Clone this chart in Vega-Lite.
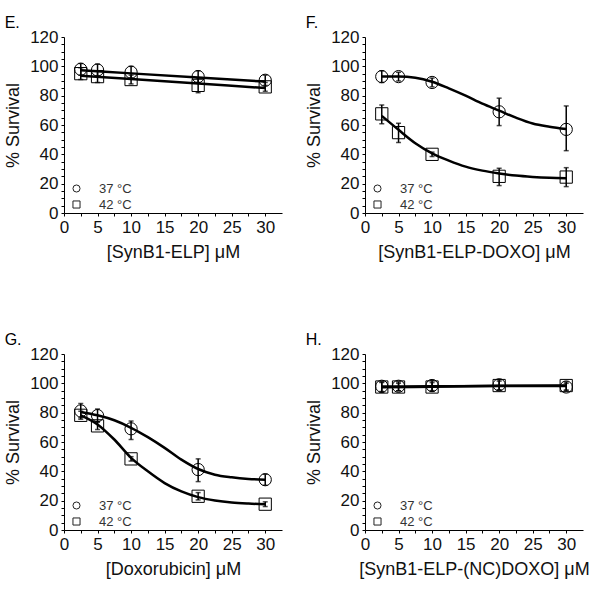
{
  "$schema": "https://vega.github.io/schema/vega-lite/v6.json",
  "background": "white",
  "padding": {"left": 4, "top": 15, "right": 5, "bottom": 5},
  "datasets": {
    "pts": [
      {"panel": "E", "temp": "37 °C", "x": 2.5, "y": 98, "lo": 94, "hi": 102},
      {"panel": "E", "temp": "37 °C", "x": 5, "y": 97.5, "lo": 93.5, "hi": 101.5},
      {"panel": "E", "temp": "37 °C", "x": 10, "y": 96, "lo": 92, "hi": 100},
      {"panel": "E", "temp": "37 °C", "x": 20, "y": 93, "lo": 89, "hi": 97},
      {"panel": "E", "temp": "37 °C", "x": 30, "y": 90.5, "lo": 87, "hi": 94},
      {"panel": "E", "temp": "42 °C", "x": 2.5, "y": 95, "lo": 91, "hi": 99},
      {"panel": "E", "temp": "42 °C", "x": 5, "y": 93, "lo": 89, "hi": 97},
      {"panel": "E", "temp": "42 °C", "x": 10, "y": 91, "lo": 88, "hi": 94},
      {"panel": "E", "temp": "42 °C", "x": 20, "y": 87, "lo": 82, "hi": 92},
      {"panel": "E", "temp": "42 °C", "x": 30, "y": 86, "lo": 83, "hi": 89},
      {"panel": "F", "temp": "37 °C", "x": 2.5, "y": 93, "lo": 89, "hi": 97},
      {"panel": "F", "temp": "37 °C", "x": 5, "y": 93, "lo": 90, "hi": 96},
      {"panel": "F", "temp": "37 °C", "x": 10, "y": 89, "lo": 86, "hi": 92},
      {"panel": "F", "temp": "37 °C", "x": 20, "y": 69, "lo": 59.6, "hi": 78.3},
      {"panel": "F", "temp": "37 °C", "x": 30, "y": 57, "lo": 42.5, "hi": 73},
      {"panel": "F", "temp": "42 °C", "x": 2.5, "y": 67.6, "lo": 60.8, "hi": 73.7},
      {"panel": "F", "temp": "42 °C", "x": 5, "y": 54.8, "lo": 48, "hi": 61.2},
      {"panel": "F", "temp": "42 °C", "x": 10, "y": 40, "lo": 38.5, "hi": 41.5},
      {"panel": "F", "temp": "42 °C", "x": 20, "y": 25, "lo": 18.7, "hi": 30.5},
      {"panel": "F", "temp": "42 °C", "x": 30, "y": 24.5, "lo": 18, "hi": 30.9},
      {"panel": "G", "temp": "37 °C", "x": 2.5, "y": 81.2, "lo": 76.5, "hi": 86.2},
      {"panel": "G", "temp": "37 °C", "x": 5, "y": 78, "lo": 73.5, "hi": 82.5},
      {"panel": "G", "temp": "37 °C", "x": 10, "y": 69, "lo": 61.7, "hi": 74.3},
      {"panel": "G", "temp": "37 °C", "x": 20, "y": 41.2, "lo": 33, "hi": 48.5},
      {"panel": "G", "temp": "37 °C", "x": 30, "y": 34.3, "lo": 30.5, "hi": 38},
      {"panel": "G", "temp": "42 °C", "x": 2.5, "y": 78.2, "lo": 75.5, "hi": 81},
      {"panel": "G", "temp": "42 °C", "x": 5, "y": 71, "lo": 68.5, "hi": 74},
      {"panel": "G", "temp": "42 °C", "x": 10, "y": 48.5, "lo": 47, "hi": 50},
      {"panel": "G", "temp": "42 °C", "x": 20, "y": 23, "lo": 20.5, "hi": 25.5},
      {"panel": "G", "temp": "42 °C", "x": 30, "y": 17.6, "lo": 16, "hi": 19.2},
      {"panel": "H", "temp": "37 °C", "x": 2.5, "y": 98, "lo": 94, "hi": 101},
      {"panel": "H", "temp": "37 °C", "x": 5, "y": 98, "lo": 95, "hi": 101},
      {"panel": "H", "temp": "37 °C", "x": 10, "y": 98.5, "lo": 95, "hi": 102},
      {"panel": "H", "temp": "37 °C", "x": 20, "y": 99, "lo": 95.5, "hi": 102.5},
      {"panel": "H", "temp": "37 °C", "x": 30, "y": 97.5, "lo": 95, "hi": 100},
      {"panel": "H", "temp": "42 °C", "x": 2.5, "y": 97.5, "lo": 94.5, "hi": 100.5},
      {"panel": "H", "temp": "42 °C", "x": 5, "y": 97.5, "lo": 95, "hi": 100},
      {"panel": "H", "temp": "42 °C", "x": 10, "y": 97.5, "lo": 94.5, "hi": 100.5},
      {"panel": "H", "temp": "42 °C", "x": 20, "y": 98.5, "lo": 95.5, "hi": 101.5},
      {"panel": "H", "temp": "42 °C", "x": 30, "y": 98.5, "lo": 95.5, "hi": 101}
    ],
    "fit": [
      {"panel": "E", "temp": "37 °C", "x": 2.5, "y": 97.3},
      {"panel": "E", "temp": "37 °C", "x": 10, "y": 95.2},
      {"panel": "E", "temp": "37 °C", "x": 20, "y": 92.4},
      {"panel": "E", "temp": "37 °C", "x": 30, "y": 89.6},
      {"panel": "E", "temp": "42 °C", "x": 2.5, "y": 93.6},
      {"panel": "E", "temp": "42 °C", "x": 10, "y": 91.4},
      {"panel": "E", "temp": "42 °C", "x": 20, "y": 88.3},
      {"panel": "E", "temp": "42 °C", "x": 30, "y": 85.2},
      {"panel": "F", "temp": "37 °C", "x": 2.5, "y": 93},
      {"panel": "F", "temp": "37 °C", "x": 5, "y": 93},
      {"panel": "F", "temp": "37 °C", "x": 7.5, "y": 92.2},
      {"panel": "F", "temp": "37 °C", "x": 10, "y": 89.5},
      {"panel": "F", "temp": "37 °C", "x": 12.5, "y": 85},
      {"panel": "F", "temp": "37 °C", "x": 15, "y": 80},
      {"panel": "F", "temp": "37 °C", "x": 17.5, "y": 74.5},
      {"panel": "F", "temp": "37 °C", "x": 20, "y": 69.8},
      {"panel": "F", "temp": "37 °C", "x": 22.5, "y": 65},
      {"panel": "F", "temp": "37 °C", "x": 25, "y": 61},
      {"panel": "F", "temp": "37 °C", "x": 27.5, "y": 58.8},
      {"panel": "F", "temp": "37 °C", "x": 30, "y": 57.2},
      {"panel": "F", "temp": "42 °C", "x": 2.5, "y": 66.2},
      {"panel": "F", "temp": "42 °C", "x": 5, "y": 56.7},
      {"panel": "F", "temp": "42 °C", "x": 7.5, "y": 47.6},
      {"panel": "F", "temp": "42 °C", "x": 10, "y": 40.7},
      {"panel": "F", "temp": "42 °C", "x": 12.5, "y": 35.7},
      {"panel": "F", "temp": "42 °C", "x": 15, "y": 31.6},
      {"panel": "F", "temp": "42 °C", "x": 17.5, "y": 28.9},
      {"panel": "F", "temp": "42 °C", "x": 20, "y": 27},
      {"panel": "F", "temp": "42 °C", "x": 22.5, "y": 25.5},
      {"panel": "F", "temp": "42 °C", "x": 25, "y": 24.6},
      {"panel": "F", "temp": "42 °C", "x": 27.5, "y": 24},
      {"panel": "F", "temp": "42 °C", "x": 30, "y": 23.7},
      {"panel": "G", "temp": "37 °C", "x": 2.5, "y": 80.5},
      {"panel": "G", "temp": "37 °C", "x": 5, "y": 78.2},
      {"panel": "G", "temp": "37 °C", "x": 7.5, "y": 74.8},
      {"panel": "G", "temp": "37 °C", "x": 10, "y": 69.7},
      {"panel": "G", "temp": "37 °C", "x": 12.5, "y": 63.3},
      {"panel": "G", "temp": "37 °C", "x": 15, "y": 56},
      {"panel": "G", "temp": "37 °C", "x": 17.5, "y": 48},
      {"panel": "G", "temp": "37 °C", "x": 20, "y": 41.6},
      {"panel": "G", "temp": "37 °C", "x": 22.5, "y": 37.7},
      {"panel": "G", "temp": "37 °C", "x": 25, "y": 35.9},
      {"panel": "G", "temp": "37 °C", "x": 27.5, "y": 34.8},
      {"panel": "G", "temp": "37 °C", "x": 30, "y": 34.3},
      {"panel": "G", "temp": "42 °C", "x": 2.5, "y": 78.2},
      {"panel": "G", "temp": "42 °C", "x": 5, "y": 72},
      {"panel": "G", "temp": "42 °C", "x": 7.5, "y": 61.7},
      {"panel": "G", "temp": "42 °C", "x": 10, "y": 49.2},
      {"panel": "G", "temp": "42 °C", "x": 12.5, "y": 40},
      {"panel": "G", "temp": "42 °C", "x": 15, "y": 32},
      {"panel": "G", "temp": "42 °C", "x": 17.5, "y": 26.3},
      {"panel": "G", "temp": "42 °C", "x": 20, "y": 22.4},
      {"panel": "G", "temp": "42 °C", "x": 22.5, "y": 20.1},
      {"panel": "G", "temp": "42 °C", "x": 25, "y": 18.7},
      {"panel": "G", "temp": "42 °C", "x": 27.5, "y": 18},
      {"panel": "G", "temp": "42 °C", "x": 30, "y": 17.6},
      {"panel": "H", "temp": "37 °C", "x": 2.5, "y": 97.8},
      {"panel": "H", "temp": "37 °C", "x": 10, "y": 98},
      {"panel": "H", "temp": "37 °C", "x": 20, "y": 98.2},
      {"panel": "H", "temp": "37 °C", "x": 30, "y": 98.2},
      {"panel": "H", "temp": "42 °C", "x": 2.5, "y": 97.4},
      {"panel": "H", "temp": "42 °C", "x": 10, "y": 97.7},
      {"panel": "H", "temp": "42 °C", "x": 20, "y": 98.3},
      {"panel": "H", "temp": "42 °C", "x": 30, "y": 98.5}
    ]
  },
  "columns": 2,
  "spacing": {"row": 71, "column": 23},
  "resolve": {"legend": {"shape": "independent"}, "scale": {"shape": "independent"}},
  "concat": [
    {
      "title": "E.",
      "width": 218, "height": 176,
      "layer": [
        {"data": {"name": "pts"}, "transform": [{"filter": "datum.panel === 'E'"}],
         "mark": {"type": "point", "filled": false, "stroke": "black", "strokeWidth": 1, "size": 150, "opacity": 1},
         "encoding": {
           "x": {"field": "x", "type": "quantitative", "scale": {"domain": [0, 32.5], "nice": false}, "axis": {"title": "[SynB1-ELP] μM", "values": [0,2.5,5,7.5,10,12.5,15,17.5,20,22.5,25,27.5,30], "labelExpr": "datum.value % 5 === 0 ? datum.label : ''"}},
           "y": {"field": "y", "type": "quantitative", "scale": {"domain": [0, 120], "nice": false}, "axis": {"title": "% Survival", "values": [0,5,10,15,20,25,30,35,40,45,50,55,60,65,70,75,80,85,90,95,100,105,110,115,120], "labelExpr": "datum.value % 20 === 0 ? datum.label : ''"}},
           "shape": {"field": "temp", "type": "nominal", "scale": {"domain": ["37 °C", "42 °C"], "range": ["circle", "square"]}, "legend": {"orient": "none", "legendX": 6, "legendY": 145, "title": null}}
         }},
        {"data": {"name": "fit"}, "transform": [{"filter": "datum.panel === 'E'"}],
         "mark": {"type": "line", "color": "black", "strokeWidth": 2.5, "interpolate": "monotone"},
         "encoding": {"x": {"field": "x", "type": "quantitative", "axis": {"title": "[SynB1-ELP] μM", "values": [0,2.5,5,7.5,10,12.5,15,17.5,20,22.5,25,27.5,30], "labelExpr": "datum.value % 5 === 0 ? datum.label : ''"}}, "y": {"field": "y", "type": "quantitative", "axis": {"title": "% Survival", "values": [0,5,10,15,20,25,30,35,40,45,50,55,60,65,70,75,80,85,90,95,100,105,110,115,120], "labelExpr": "datum.value % 20 === 0 ? datum.label : ''"}}, "detail": {"field": "temp"}}},
        {"data": {"name": "pts"}, "transform": [{"filter": "datum.panel === 'E'"}],
         "mark": {"type": "rule", "color": "black", "strokeWidth": 1.5},
         "encoding": {"x": {"field": "x", "type": "quantitative", "axis": {"title": "[SynB1-ELP] μM", "values": [0,2.5,5,7.5,10,12.5,15,17.5,20,22.5,25,27.5,30], "labelExpr": "datum.value % 5 === 0 ? datum.label : ''"}}, "y": {"field": "lo", "type": "quantitative", "axis": {"title": "% Survival", "values": [0,5,10,15,20,25,30,35,40,45,50,55,60,65,70,75,80,85,90,95,100,105,110,115,120], "labelExpr": "datum.value % 20 === 0 ? datum.label : ''"}}, "y2": {"field": "hi"}}},
        {"data": {"name": "pts"}, "transform": [{"filter": "datum.panel === 'E'"}],
         "mark": {"type": "tick", "orient": "horizontal", "color": "black", "size": 5, "thickness": 1.5},
         "encoding": {"x": {"field": "x", "type": "quantitative", "axis": {"title": "[SynB1-ELP] μM", "values": [0,2.5,5,7.5,10,12.5,15,17.5,20,22.5,25,27.5,30], "labelExpr": "datum.value % 5 === 0 ? datum.label : ''"}}, "y": {"field": "lo", "type": "quantitative", "axis": {"title": "% Survival", "values": [0,5,10,15,20,25,30,35,40,45,50,55,60,65,70,75,80,85,90,95,100,105,110,115,120], "labelExpr": "datum.value % 20 === 0 ? datum.label : ''"}}}},
        {"data": {"name": "pts"}, "transform": [{"filter": "datum.panel === 'E'"}],
         "mark": {"type": "tick", "orient": "horizontal", "color": "black", "size": 5, "thickness": 1.5},
         "encoding": {"x": {"field": "x", "type": "quantitative", "axis": {"title": "[SynB1-ELP] μM", "values": [0,2.5,5,7.5,10,12.5,15,17.5,20,22.5,25,27.5,30], "labelExpr": "datum.value % 5 === 0 ? datum.label : ''"}}, "y": {"field": "hi", "type": "quantitative", "axis": {"title": "% Survival", "values": [0,5,10,15,20,25,30,35,40,45,50,55,60,65,70,75,80,85,90,95,100,105,110,115,120], "labelExpr": "datum.value % 20 === 0 ? datum.label : ''"}}}}
      ]
    },
    {
      "title": "F.",
      "width": 218, "height": 176,
      "layer": [
        {"data": {"name": "pts"}, "transform": [{"filter": "datum.panel === 'F'"}],
         "mark": {"type": "point", "filled": false, "stroke": "black", "strokeWidth": 1, "size": 150, "opacity": 1},
         "encoding": {
           "x": {"field": "x", "type": "quantitative", "scale": {"domain": [0, 32.5], "nice": false}, "axis": {"title": "[SynB1-ELP-DOXO] μM", "values": [0,2.5,5,7.5,10,12.5,15,17.5,20,22.5,25,27.5,30], "labelExpr": "datum.value % 5 === 0 ? datum.label : ''"}},
           "y": {"field": "y", "type": "quantitative", "scale": {"domain": [0, 120], "nice": false}, "axis": {"title": "% Survival", "values": [0,5,10,15,20,25,30,35,40,45,50,55,60,65,70,75,80,85,90,95,100,105,110,115,120], "labelExpr": "datum.value % 20 === 0 ? datum.label : ''"}},
           "shape": {"field": "temp", "type": "nominal", "scale": {"domain": ["37 °C", "42 °C"], "range": ["circle", "square"]}, "legend": {"orient": "none", "legendX": 6, "legendY": 145, "title": null}}
         }},
        {"data": {"name": "fit"}, "transform": [{"filter": "datum.panel === 'F'"}],
         "mark": {"type": "line", "color": "black", "strokeWidth": 2.5, "interpolate": "monotone"},
         "encoding": {"x": {"field": "x", "type": "quantitative", "axis": {"title": "[SynB1-ELP-DOXO] μM", "values": [0,2.5,5,7.5,10,12.5,15,17.5,20,22.5,25,27.5,30], "labelExpr": "datum.value % 5 === 0 ? datum.label : ''"}}, "y": {"field": "y", "type": "quantitative", "axis": {"title": "% Survival", "values": [0,5,10,15,20,25,30,35,40,45,50,55,60,65,70,75,80,85,90,95,100,105,110,115,120], "labelExpr": "datum.value % 20 === 0 ? datum.label : ''"}}, "detail": {"field": "temp"}}},
        {"data": {"name": "pts"}, "transform": [{"filter": "datum.panel === 'F'"}],
         "mark": {"type": "rule", "color": "black", "strokeWidth": 1.5},
         "encoding": {"x": {"field": "x", "type": "quantitative", "axis": {"title": "[SynB1-ELP-DOXO] μM", "values": [0,2.5,5,7.5,10,12.5,15,17.5,20,22.5,25,27.5,30], "labelExpr": "datum.value % 5 === 0 ? datum.label : ''"}}, "y": {"field": "lo", "type": "quantitative", "axis": {"title": "% Survival", "values": [0,5,10,15,20,25,30,35,40,45,50,55,60,65,70,75,80,85,90,95,100,105,110,115,120], "labelExpr": "datum.value % 20 === 0 ? datum.label : ''"}}, "y2": {"field": "hi"}}},
        {"data": {"name": "pts"}, "transform": [{"filter": "datum.panel === 'F'"}],
         "mark": {"type": "tick", "orient": "horizontal", "color": "black", "size": 5, "thickness": 1.5},
         "encoding": {"x": {"field": "x", "type": "quantitative", "axis": {"title": "[SynB1-ELP-DOXO] μM", "values": [0,2.5,5,7.5,10,12.5,15,17.5,20,22.5,25,27.5,30], "labelExpr": "datum.value % 5 === 0 ? datum.label : ''"}}, "y": {"field": "lo", "type": "quantitative", "axis": {"title": "% Survival", "values": [0,5,10,15,20,25,30,35,40,45,50,55,60,65,70,75,80,85,90,95,100,105,110,115,120], "labelExpr": "datum.value % 20 === 0 ? datum.label : ''"}}}},
        {"data": {"name": "pts"}, "transform": [{"filter": "datum.panel === 'F'"}],
         "mark": {"type": "tick", "orient": "horizontal", "color": "black", "size": 5, "thickness": 1.5},
         "encoding": {"x": {"field": "x", "type": "quantitative", "axis": {"title": "[SynB1-ELP-DOXO] μM", "values": [0,2.5,5,7.5,10,12.5,15,17.5,20,22.5,25,27.5,30], "labelExpr": "datum.value % 5 === 0 ? datum.label : ''"}}, "y": {"field": "hi", "type": "quantitative", "axis": {"title": "% Survival", "values": [0,5,10,15,20,25,30,35,40,45,50,55,60,65,70,75,80,85,90,95,100,105,110,115,120], "labelExpr": "datum.value % 20 === 0 ? datum.label : ''"}}}}
      ]
    },
    {
      "title": "G.",
      "width": 218, "height": 176,
      "layer": [
        {"data": {"name": "pts"}, "transform": [{"filter": "datum.panel === 'G'"}],
         "mark": {"type": "point", "filled": false, "stroke": "black", "strokeWidth": 1, "size": 150, "opacity": 1},
         "encoding": {
           "x": {"field": "x", "type": "quantitative", "scale": {"domain": [0, 32.5], "nice": false}, "axis": {"title": "[Doxorubicin] μM", "values": [0,2.5,5,7.5,10,12.5,15,17.5,20,22.5,25,27.5,30], "labelExpr": "datum.value % 5 === 0 ? datum.label : ''"}},
           "y": {"field": "y", "type": "quantitative", "scale": {"domain": [0, 120], "nice": false}, "axis": {"title": "% Survival", "values": [0,5,10,15,20,25,30,35,40,45,50,55,60,65,70,75,80,85,90,95,100,105,110,115,120], "labelExpr": "datum.value % 20 === 0 ? datum.label : ''"}},
           "shape": {"field": "temp", "type": "nominal", "scale": {"domain": ["37 °C", "42 °C"], "range": ["circle", "square"]}, "legend": {"orient": "none", "legendX": 6, "legendY": 145, "title": null}}
         }},
        {"data": {"name": "fit"}, "transform": [{"filter": "datum.panel === 'G'"}],
         "mark": {"type": "line", "color": "black", "strokeWidth": 2.5, "interpolate": "monotone"},
         "encoding": {"x": {"field": "x", "type": "quantitative", "axis": {"title": "[Doxorubicin] μM", "values": [0,2.5,5,7.5,10,12.5,15,17.5,20,22.5,25,27.5,30], "labelExpr": "datum.value % 5 === 0 ? datum.label : ''"}}, "y": {"field": "y", "type": "quantitative", "axis": {"title": "% Survival", "values": [0,5,10,15,20,25,30,35,40,45,50,55,60,65,70,75,80,85,90,95,100,105,110,115,120], "labelExpr": "datum.value % 20 === 0 ? datum.label : ''"}}, "detail": {"field": "temp"}}},
        {"data": {"name": "pts"}, "transform": [{"filter": "datum.panel === 'G'"}],
         "mark": {"type": "rule", "color": "black", "strokeWidth": 1.5},
         "encoding": {"x": {"field": "x", "type": "quantitative", "axis": {"title": "[Doxorubicin] μM", "values": [0,2.5,5,7.5,10,12.5,15,17.5,20,22.5,25,27.5,30], "labelExpr": "datum.value % 5 === 0 ? datum.label : ''"}}, "y": {"field": "lo", "type": "quantitative", "axis": {"title": "% Survival", "values": [0,5,10,15,20,25,30,35,40,45,50,55,60,65,70,75,80,85,90,95,100,105,110,115,120], "labelExpr": "datum.value % 20 === 0 ? datum.label : ''"}}, "y2": {"field": "hi"}}},
        {"data": {"name": "pts"}, "transform": [{"filter": "datum.panel === 'G'"}],
         "mark": {"type": "tick", "orient": "horizontal", "color": "black", "size": 5, "thickness": 1.5},
         "encoding": {"x": {"field": "x", "type": "quantitative", "axis": {"title": "[Doxorubicin] μM", "values": [0,2.5,5,7.5,10,12.5,15,17.5,20,22.5,25,27.5,30], "labelExpr": "datum.value % 5 === 0 ? datum.label : ''"}}, "y": {"field": "lo", "type": "quantitative", "axis": {"title": "% Survival", "values": [0,5,10,15,20,25,30,35,40,45,50,55,60,65,70,75,80,85,90,95,100,105,110,115,120], "labelExpr": "datum.value % 20 === 0 ? datum.label : ''"}}}},
        {"data": {"name": "pts"}, "transform": [{"filter": "datum.panel === 'G'"}],
         "mark": {"type": "tick", "orient": "horizontal", "color": "black", "size": 5, "thickness": 1.5},
         "encoding": {"x": {"field": "x", "type": "quantitative", "axis": {"title": "[Doxorubicin] μM", "values": [0,2.5,5,7.5,10,12.5,15,17.5,20,22.5,25,27.5,30], "labelExpr": "datum.value % 5 === 0 ? datum.label : ''"}}, "y": {"field": "hi", "type": "quantitative", "axis": {"title": "% Survival", "values": [0,5,10,15,20,25,30,35,40,45,50,55,60,65,70,75,80,85,90,95,100,105,110,115,120], "labelExpr": "datum.value % 20 === 0 ? datum.label : ''"}}}}
      ]
    },
    {
      "title": "H.",
      "width": 218, "height": 176,
      "layer": [
        {"data": {"name": "pts"}, "transform": [{"filter": "datum.panel === 'H'"}],
         "mark": {"type": "point", "filled": false, "stroke": "black", "strokeWidth": 1, "size": 150, "opacity": 1},
         "encoding": {
           "x": {"field": "x", "type": "quantitative", "scale": {"domain": [0, 32.5], "nice": false}, "axis": {"title": "[SynB1-ELP-(NC)DOXO] μM", "values": [0,2.5,5,7.5,10,12.5,15,17.5,20,22.5,25,27.5,30], "labelExpr": "datum.value % 5 === 0 ? datum.label : ''"}},
           "y": {"field": "y", "type": "quantitative", "scale": {"domain": [0, 120], "nice": false}, "axis": {"title": "% Survival", "values": [0,5,10,15,20,25,30,35,40,45,50,55,60,65,70,75,80,85,90,95,100,105,110,115,120], "labelExpr": "datum.value % 20 === 0 ? datum.label : ''"}},
           "shape": {"field": "temp", "type": "nominal", "scale": {"domain": ["37 °C", "42 °C"], "range": ["circle", "square"]}, "legend": {"orient": "none", "legendX": 6, "legendY": 145, "title": null}}
         }},
        {"data": {"name": "fit"}, "transform": [{"filter": "datum.panel === 'H'"}],
         "mark": {"type": "line", "color": "black", "strokeWidth": 2.5, "interpolate": "monotone"},
         "encoding": {"x": {"field": "x", "type": "quantitative", "axis": {"title": "[SynB1-ELP-(NC)DOXO] μM", "values": [0,2.5,5,7.5,10,12.5,15,17.5,20,22.5,25,27.5,30], "labelExpr": "datum.value % 5 === 0 ? datum.label : ''"}}, "y": {"field": "y", "type": "quantitative", "axis": {"title": "% Survival", "values": [0,5,10,15,20,25,30,35,40,45,50,55,60,65,70,75,80,85,90,95,100,105,110,115,120], "labelExpr": "datum.value % 20 === 0 ? datum.label : ''"}}, "detail": {"field": "temp"}}},
        {"data": {"name": "pts"}, "transform": [{"filter": "datum.panel === 'H'"}],
         "mark": {"type": "rule", "color": "black", "strokeWidth": 1.5},
         "encoding": {"x": {"field": "x", "type": "quantitative", "axis": {"title": "[SynB1-ELP-(NC)DOXO] μM", "values": [0,2.5,5,7.5,10,12.5,15,17.5,20,22.5,25,27.5,30], "labelExpr": "datum.value % 5 === 0 ? datum.label : ''"}}, "y": {"field": "lo", "type": "quantitative", "axis": {"title": "% Survival", "values": [0,5,10,15,20,25,30,35,40,45,50,55,60,65,70,75,80,85,90,95,100,105,110,115,120], "labelExpr": "datum.value % 20 === 0 ? datum.label : ''"}}, "y2": {"field": "hi"}}},
        {"data": {"name": "pts"}, "transform": [{"filter": "datum.panel === 'H'"}],
         "mark": {"type": "tick", "orient": "horizontal", "color": "black", "size": 5, "thickness": 1.5},
         "encoding": {"x": {"field": "x", "type": "quantitative", "axis": {"title": "[SynB1-ELP-(NC)DOXO] μM", "values": [0,2.5,5,7.5,10,12.5,15,17.5,20,22.5,25,27.5,30], "labelExpr": "datum.value % 5 === 0 ? datum.label : ''"}}, "y": {"field": "lo", "type": "quantitative", "axis": {"title": "% Survival", "values": [0,5,10,15,20,25,30,35,40,45,50,55,60,65,70,75,80,85,90,95,100,105,110,115,120], "labelExpr": "datum.value % 20 === 0 ? datum.label : ''"}}}},
        {"data": {"name": "pts"}, "transform": [{"filter": "datum.panel === 'H'"}],
         "mark": {"type": "tick", "orient": "horizontal", "color": "black", "size": 5, "thickness": 1.5},
         "encoding": {"x": {"field": "x", "type": "quantitative", "axis": {"title": "[SynB1-ELP-(NC)DOXO] μM", "values": [0,2.5,5,7.5,10,12.5,15,17.5,20,22.5,25,27.5,30], "labelExpr": "datum.value % 5 === 0 ? datum.label : ''"}}, "y": {"field": "hi", "type": "quantitative", "axis": {"title": "% Survival", "values": [0,5,10,15,20,25,30,35,40,45,50,55,60,65,70,75,80,85,90,95,100,105,110,115,120], "labelExpr": "datum.value % 20 === 0 ? datum.label : ''"}}}}
      ]
    }
  ],
  "config": {
    "font": "Liberation Sans",
    "view": {"stroke": null},
    "axis": {"grid": false, "domainColor": "black", "domainWidth": 1, "tickColor": "black", "tickSize": 3, "labelPadding": 3, "labelColor": "#111", "labelFontSize": 17, "labelFont": "Liberation Sans", "labelOverlap": false, "labelFlush": false, "titleFont": "Liberation Sans", "titleFontSize": 18, "titleFontWeight": "normal", "titleColor": "#111"},
    "axisX": {"titlePadding": 8},
    "axisY": {"titlePadding": 7},
    "title": {"font": "Liberation Sans", "fontSize": 16, "fontWeight": "normal", "color": "black", "anchor": "start", "frame": "bounds", "offset": -3},
    "legend": {"labelFont": "Liberation Sans", "labelFontSize": 13, "labelColor": "#333", "labelOffset": 16, "rowPadding": 2, "padding": 0, "symbolSize": 50, "symbolStrokeColor": "#222", "symbolStrokeWidth": 1, "symbolFillColor": "transparent"}
  }
}
